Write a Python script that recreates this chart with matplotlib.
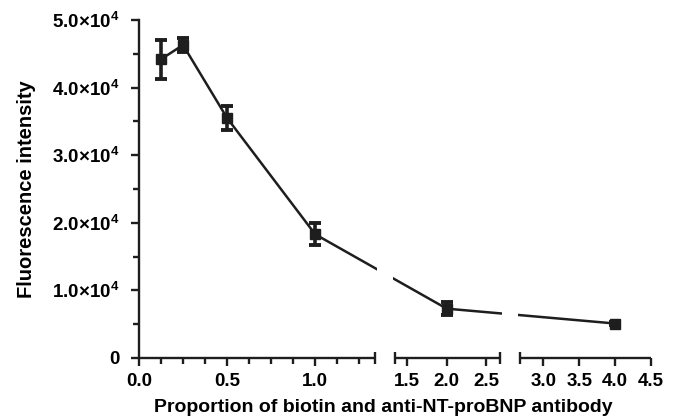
import numpy as np
import matplotlib
matplotlib.use("Agg")
import matplotlib.pyplot as plt
from matplotlib.ticker import FuncFormatter

plt.rcParams['font.family'] = ['Liberation Sans', 'DejaVu Sans']
plt.rcParams['font.weight'] = 'bold'
plt.rcParams['mathtext.fontset'] = 'custom'
plt.rcParams['mathtext.bf'] = 'Liberation Sans:bold'
plt.rcParams['mathtext.rm'] = 'Liberation Sans:bold'

# data
ratio = [0.125, 0.25, 0.5, 1.0, 2.0, 4.0]
intensity = [44200, 46300, 35500, 18300, 7300, 5100]
err = [2900, 1100, 1750, 1600, 1000, 200]

x_major = [0.0, 0.5, 1.0, 1.5, 2.0, 2.5, 3.0, 3.5, 4.0, 4.5]
x_minor = [0.125, 0.25, 0.375, 0.625, 0.75, 0.875, 1.125, 1.25]
y_major = [0, 10000, 20000, 30000, 40000, 50000]
y_minor = [5000, 15000, 25000, 35000, 45000]

# broken x axis: data breakpoints -> display units (pixels along axis)
brk_x = [-10.0, 0.0, 1.34, 1.345, 2.67, 2.675, 4.5, 20.0]
brk_p = [-1760.0, 0.0, 236.0, 256.0, 360.4, 380.8, 511.8, 1657.0]
segments = [(0.0, 1.34), (1.345, 2.67), (2.675, 4.5)]
breaks = [(1.34, 1.345), (2.67, 2.675)]


def fwd(x):
    return np.interp(x, brk_x, brk_p)


def inv(p):
    return np.interp(p, brk_p, brk_x)


ink = '#1e1e1e'
fig = plt.figure(figsize=(6.78, 4.18), dpi=100)
ax = fig.add_axes([139 / 678, 60 / 418, 512 / 678, 338 / 418])
ax.set_xscale('function', functions=(fwd, inv))

ax.errorbar(ratio, intensity, yerr=err, fmt='s-', color=ink, lw=1.8, ms=7,
            elinewidth=2.6, capsize=4.2, capthick=2.8, zorder=3)

# gaps in the line where the axis is broken
for lo, hi in breaks:
    ax.axvspan(lo + 0.0005, hi - 0.0005, color='white', lw=0, zorder=4)

# broken bottom axis
ax.spines['bottom'].set_visible(False)
ax.spines['top'].set_visible(False)
ax.spines['right'].set_visible(False)
ax.spines['left'].set_linewidth(1.7)
ax.spines['left'].set_color(ink)
for lo, hi in segments:
    ax.plot([lo, hi], [0, 0], color=ink, lw=1.7, solid_capstyle='butt',
            clip_on=False, zorder=5)
ends = [b for pair in breaks for b in pair]
ax.plot(ends, [0] * len(ends), ls='none', marker='|', ms=8, mew=1.7,
        color=ink, clip_on=False, zorder=5)

ax.set_xlim(0, 4.5)
ax.set_ylim(0, 50000)
ax.set_xticks(x_major)
ax.set_xticks(x_minor, minor=True)
ax.set_yticks(y_major)
ax.set_yticks(y_minor, minor=True)
ax.xaxis.set_major_formatter(FuncFormatter(lambda v, p: f'{v:.1f}'))


def yfmt(v, p):
    if v == 0:
        return '0'
    return r'$\mathbf{%.1f{\times}10^{4}}$' % (v / 1e4)


ax.yaxis.set_major_formatter(FuncFormatter(yfmt))
ax.tick_params(which='major', direction='out', length=6, width=1.7,
               color=ink, labelsize=13.5)
ax.tick_params(which='minor', direction='out', length=4, width=1.7, color=ink)
ax.tick_params(axis='x', which='major', pad=5)
ax.tick_params(axis='y', which='major', pad=8)
for lab in ax.get_xticklabels() + ax.get_yticklabels():
    lab.set_fontweight('bold')

ax.set_xlabel('Proportion of biotin and anti-NT-proBNP antibody',
              fontsize=14, fontweight='bold')
ax.xaxis.set_label_coords(0.477, -0.122)
ax.set_ylabel('Fluorescence intensity', fontsize=14.5, fontweight='bold',
              labelpad=12)

fig.savefig('out.png', dpi=100)
